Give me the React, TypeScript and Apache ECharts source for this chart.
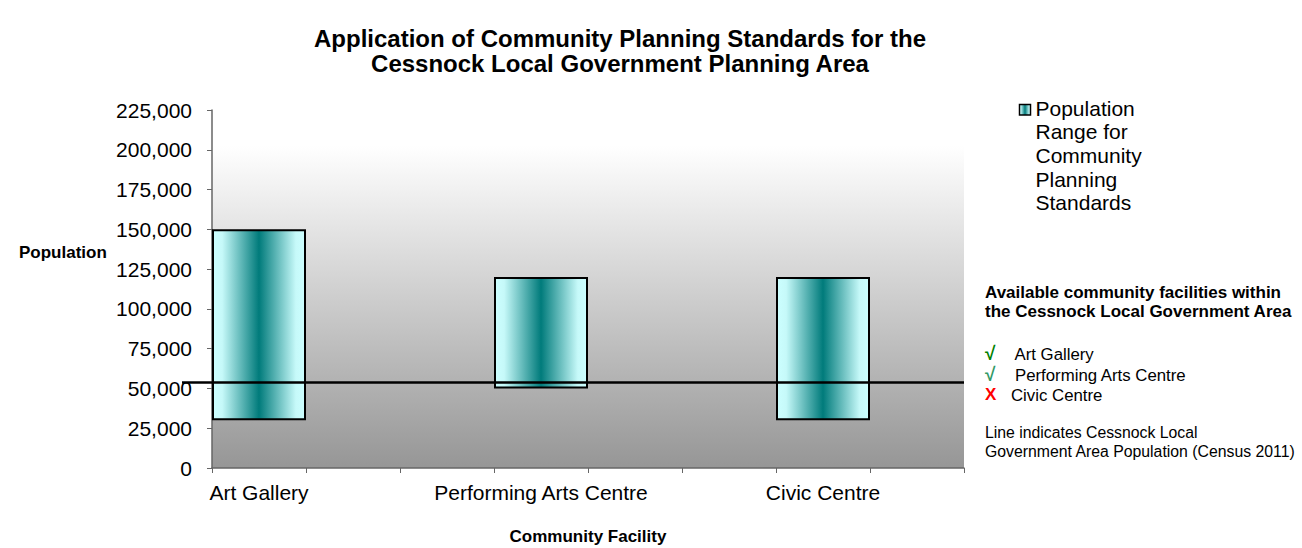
import React, { useEffect, useRef } from 'react';
import * as echarts from 'echarts';

// ---- data ----
const categories = ['Art Gallery', '', '', 'Performing Arts Centre', '', '', 'Civic Centre', ''];
const rangeLow: (number | null)[] = [30000, null, null, 50000, null, null, 30000, null];
const rangeHigh: (number | null)[] = [150000, null, null, 120000, null, null, 120000, null];
const censusPopulation = 54000;
const yMin = 0;
const yMax = 225000;
const yStep = 25000;

const seriesName = 'Population Range for Community Planning Standards';
const legendLines = ['Population', 'Range for', 'Community', 'Planning', 'Standards'];
const titleText = 'Application of Community Planning Standards for the\nCessnock Local Government Planning Area';
const yAxisTitle = 'Population';
const xAxisTitle = 'Community Facility';
const noteHeading = ['Available community facilities within', 'the Cessnock Local Government Area'];
const facilityMarks = ['√', '√', 'X'];
const facilityNames = ['Art Gallery', 'Performing Arts Centre', 'Civic Centre'];
const lineNote = ['Line indicates Cessnock Local', 'Government Area Population (Census 2011)'];

const FONT = '"Liberation Sans", Arial, sans-serif';

const barFill = {
  type: 'linear', x: 0, y: 0, x2: 1, y2: 0,
  colorStops: [
    { offset: 0, color: '#ccffff' },
    { offset: 0.1, color: '#c6f9f9' },
    { offset: 0.5, color: '#007b7b' },
    { offset: 0.9, color: '#c6f9f9' },
    { offset: 1, color: '#ccffff' },
  ],
};

export default function App() {
  const ref = useRef<HTMLDivElement>(null);

  useEffect(() => {
    if (!ref.current) return;
    const chart = echarts.init(ref.current, null, { renderer: 'svg' });

    const rangeSpan = rangeHigh.map((h, i) => (h == null || rangeLow[i] == null ? null : h - (rangeLow[i] as number)));

    const markColors = ['#008000', '#339966', '#ff0000'];
    const markY = [353, 374, 394];
    const nameX = [1014.5, 1015, 1011];

    const graphics: any[] = [
      {
        type: 'text',
        x: 19,
        y: 252,
        style: { text: yAxisTitle, font: `bold 17px ${FONT}`, fill: '#000', verticalAlign: 'middle', align: 'left' },
      },
      {
        type: 'rect',
        shape: { x: 1019.5, y: 104.5, width: 11, height: 10.5 },
        style: { fill: barFill, stroke: '#000', lineWidth: 1.5 },
      },
      {
        type: 'text',
        x: 1035.5,
        y: 96.5,
        style: {
          text: legendLines.join('\n'),
          font: `21px ${FONT}`,
          lineHeight: 23.6,
          fill: '#000',
          verticalAlign: 'top',
          align: 'left',
        },
      },
      {
        type: 'text',
        x: 985,
        y: 282.6,
        style: {
          text: noteHeading.join('\n'),
          font: `bold 17px ${FONT}`,
          lineHeight: 19.4,
          fill: '#000',
          verticalAlign: 'top',
          align: 'left',
        },
      },
      {
        type: 'text',
        x: 985,
        y: 423.6,
        style: {
          text: lineNote.join('\n'),
          font: `15.8px ${FONT}`,
          lineHeight: 18.7,
          fill: '#000',
          verticalAlign: 'top',
          align: 'left',
        },
      },
    ];
    facilityMarks.forEach((m, i) => {
      graphics.push({
        type: 'text',
        x: 985,
        y: markY[i],
        style: {
          text: m,
          font: m === 'X' ? `bold 17px ${FONT}` : `bold 19px ${FONT}`,
          fill: markColors[i],
          verticalAlign: 'middle',
          align: 'left',
        },
      });
      graphics.push({
        type: 'text',
        x: nameX[i],
        y: markY[i] + 1,
        style: { text: facilityNames[i], font: `16.8px ${FONT}`, fill: '#000', verticalAlign: 'middle', align: 'left' },
      });
    });

    chart.setOption({
      animation: false,
      backgroundColor: '#ffffff',
      title: {
        text: titleText,
        left: 620,
        top: 25.5,
        padding: 0,
        textAlign: 'center',
        textStyle: { fontFamily: FONT, fontSize: 24, fontWeight: 'bold', lineHeight: 25.5, color: '#000' },
      },
      grid: {
        left: 212,
        right: 338,
        top: 110,
        bottom: 80,
        show: true,
        borderWidth: 0,
        backgroundColor: {
          type: 'linear', x: 0, y: 0, x2: 0, y2: 1,
          colorStops: [
            { offset: 0, color: '#ffffff' },
            { offset: 0.1, color: '#ffffff' },
            { offset: 1, color: '#969696' },
          ],
        },
        containLabel: false,
        outerBoundsMode: 'none',
      },
      xAxis: {
        type: 'category',
        data: categories,
        boundaryGap: true,
        name: xAxisTitle,
        nameLocation: 'middle',
        nameGap: 60,
        nameTextStyle: { fontFamily: FONT, fontSize: 17, fontWeight: 'bold', color: '#000' },
        axisLine: { show: true, lineStyle: { color: '#666', width: 1.5 } },
        axisTick: { show: true, interval: 0, length: 5, lineStyle: { color: '#666' } },
        axisLabel: { interval: 0, fontFamily: FONT, fontSize: 21, color: '#000', margin: 14 },
        splitLine: { show: false },
      },
      yAxis: {
        type: 'value',
        min: yMin,
        max: yMax,
        interval: yStep,
        axisLine: { show: true, lineStyle: { color: '#666', width: 1.5 } },
        axisTick: { show: true, length: 5, lineStyle: { color: '#666' } },
        axisLabel: {
          fontFamily: FONT,
          fontSize: 21,
          color: '#000',
          margin: 20,
          formatter: (v: number) => v.toLocaleString('en-US'),
        },
        splitLine: { show: false },
      },
      graphic: graphics,
      series: [
        {
          name: 'base',
          type: 'bar',
          stack: 'range',
          data: rangeLow,
          barWidth: '100%',
          silent: true,
          clip: false,
          itemStyle: { color: 'rgba(0,0,0,0)' },
        },
        {
          name: seriesName,
          type: 'bar',
          stack: 'range',
          data: rangeSpan,
          barWidth: '100%',
          clip: false,
          itemStyle: { color: barFill, borderColor: '#000', borderWidth: 2 },
          markLine: {
            silent: true,
            symbol: ['none', 'none'],
            label: { show: false },
            lineStyle: { color: '#000', width: 2.5, type: 'solid' },
            data: [[{ x: 182, yAxis: censusPopulation }, { x: 964, yAxis: censusPopulation }]],
          },
        },
      ],
    });

    return () => chart.dispose();
  }, []);

  return <div ref={ref} style={{ position: 'fixed', left: 0, top: 0, width: 1302, height: 548 }} />;
}
